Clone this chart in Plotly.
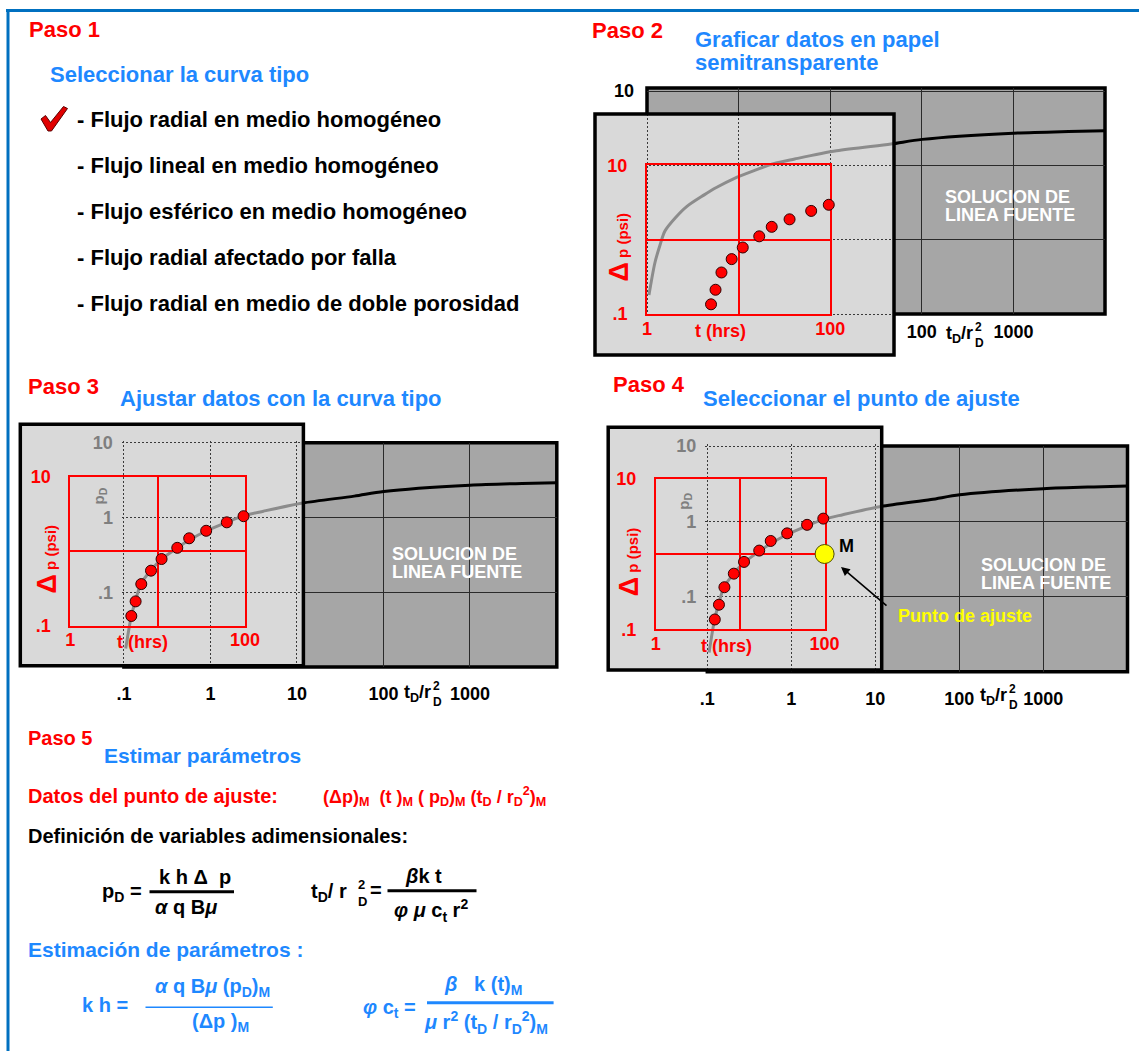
import math
import plotly.graph_objects as go

W, H = 1139, 1051
FONT = "Liberation Sans, Arial, Helvetica, sans-serif"
RED = "#ff0000"
BLUE = "#1e88ff"
GRAYTXT = "#7f7f7f"
SHEET = "#a6a6a6"
PAPER = "#d9d9d9"

# ---------------- data ----------------
# field data: pressure change vs time
t_hrs = [5.0, 5.6, 6.5, 8.4, 11.1, 16.8, 23.0, 36.0, 62.0, 96.5]
dp_psi = [0.135, 0.212, 0.362, 0.548, 0.785, 1.11, 1.49, 1.88, 2.44, 2.95]

# type curve (line-source solution): pD vs tD/rD^2
tD_rD2 = [0.105, 0.122, 0.138, 0.157, 0.203, 0.273, 0.417, 0.565, 0.891,
          1.55, 2.41, 4.1, 11.7, 46.0, 101.0, 1000.0, 4000.0, 10000.0]
pD = [0.018, 0.049, 0.083, 0.131, 0.196, 0.281, 0.398, 0.50, 0.665,
      0.869, 1.057, 1.22, 1.57, 1.94, 2.24, 2.71, 2.86, 2.93]

# match point (Paso 4)
match_t = [100]
match_dp = [1]

# tick labels
sheet_x_ticks = [0.1, 1, 10, 100, 1000, 10000]
sheet_x_labels = [".1", "1", "10", "100", "1000", ""]
sheet_y_ticks = [0.01, 0.1, 1, 10]
sheet_y_labels = ["", ".1", "1", "10"]
red_x_ticks = [1, 10, 100]
red_x_labels = ["1", "", "100"]
red_y_ticks = [0.1, 1, 10]
red_y_labels = [".1", "", "10"]

curve_types = [
    "- Flujo radial en medio homogéneo",
    "- Flujo lineal en medio homogéneo",
    "- Flujo esférico en medio homogéneo",
    "- Flujo radial afectado por falla",
    "- Flujo radial en medio de doble porosidad",
]

# ---------------- helpers ----------------
fig = go.Figure()
layout_axes = {}
shapes = []
annotations = []
n_sub = [0]


def X(p):
    return p / W


def Y(p):
    return 1 - p / H


def rng_x(m, a, b):
    v0, p0, ppd = m
    l0 = math.log10(v0)
    return [l0 + (a - p0) / ppd, l0 + (b - p0) / ppd]


def rng_y(m, top, bot):
    v0, p0, ppd = m
    l0 = math.log10(v0)
    return [l0 - (bot - p0) / ppd, l0 - (top - p0) / ppd]


def pix_x(m, v):
    v0, p0, ppd = m
    return p0 + (math.log10(v) - math.log10(v0)) * ppd


def pix_y(m, v):
    v0, p0, ppd = m
    return p0 - (math.log10(v) - math.log10(v0)) * ppd


BASE_AX = dict(showgrid=False, zeroline=False, showticklabels=False, ticks="",
               showline=False, fixedrange=True, automargin=False)


def b(s):
    return "<b>%s</b>" % s if s else ""


def ticks_kw(vals, labels, grid, font=None, standoff=0, show=True):
    """labelled ticks as major ticks, every decade gridline as a minor gridline"""
    lv = [v for v, s in zip(vals, labels) if s] if show else []
    lt = [b(s) for s in labels if s] if show else []
    kw = dict(tickmode="array", tickvals=lv, ticktext=lt, showticklabels=bool(lv),
              showgrid=True, gridcolor=grid["color"], gridwidth=grid["width"],
              griddash=grid.get("dash", "solid"),
              minor=dict(tickmode="array", tickvals=vals, ticks="", showgrid=True,
                         gridcolor=grid["color"], gridwidth=grid["width"],
                         griddash=grid.get("dash", "solid")))
    if font:
        kw["tickfont"] = font
    kw["ticklabelstandoff"] = standoff
    return kw


def subplot(rect, xr, yr, xtype="log", ytype="log", xkw=None, ykw=None):
    n_sub[0] += 1
    n = n_sub[0]
    s = "" if n == 1 else str(n)
    xa = dict(BASE_AX, domain=[X(rect[0]), X(rect[2])], range=xr, type=xtype, anchor="y" + s)
    ya = dict(BASE_AX, domain=[Y(rect[3]), Y(rect[1])], range=yr, type=ytype, anchor="x" + s)
    if xkw:
        xa.update(xkw)
    if ykw:
        ya.update(ykw)
    layout_axes["xaxis" + s] = xa
    layout_axes["yaxis" + s] = ya
    return "x" + s, "y" + s


def text(x, y, s, size, color, xanchor="left", yanchor="middle", angle=0):
    annotations.append(dict(x=X(x), y=Y(y), xref="paper", yref="paper", text=b(s),
                            showarrow=False, xanchor=xanchor, yanchor=yanchor,
                            textangle=angle, borderpad=0,
                            font=dict(family=FONT, size=size, color=color)))


def hline(x0, x1, y, color, width):
    shapes.append(dict(type="line", xref="paper", yref="paper", x0=X(x0), x1=X(x1),
                       y0=Y(y), y1=Y(y), line=dict(color=color, width=width), layer="above"))


def inside(px_, py_, rect):
    return rect[0] <= px_ <= rect[2] and rect[1] <= py_ <= rect[3]


SHEET_GRID = dict(color="#2a2a2a", width=1.2)
PAPER_GRID = dict(color="#3a3a3a", width=1, dash="2px,2px")
RED_GRID = dict(color=RED, width=2)


def panel(cfg):
    sheet, paper = cfg["sheet"], cfg["paper"]
    sx, sy, rx, ry = cfg["sx"], cfg["sy"], cfg["rx"], cfg["ry"]
    # type-curve sheet background
    shapes.append(dict(type="rect", xref="paper", yref="paper", x0=X(sheet[0]), x1=X(sheet[2]),
                       y0=Y(sheet[3]), y1=Y(sheet[1]), fillcolor=SHEET,
                       line=dict(color="black", width=3.5), layer="below"))
    # labels of the sheet that lie under the paper are not visible
    xlab = [s if not inside(pix_x(sx, v), sheet[3] + 18, paper) else ""
            for v, s in zip(sheet_x_ticks, sheet_x_labels)]
    ylab = [s if not inside(sheet[0] - 22, pix_y(sy, v), paper) else ""
            for v, s in zip(sheet_y_ticks, sheet_y_labels)]
    blackfont = dict(family=FONT, size=18, color="black")
    # A: type curve axes (black curve)
    xkw = ticks_kw(sheet_x_ticks, xlab, SHEET_GRID, blackfont, cfg["xstand"])
    ykw = ticks_kw(sheet_y_ticks, ylab, SHEET_GRID, blackfont, 12, show=cfg["sheet_ylab"])
    xa, ya = subplot(sheet, rng_x(sx, sheet[0], sheet[2]), rng_y(sy, sheet[1], sheet[3]), xkw=xkw, ykw=ykw)
    fig.add_trace(go.Scatter(x=tD_rD2, y=pD, xaxis=xa, yaxis=ya, mode="lines",
                             line=dict(color="black", width=3, shape="spline", smoothing=0.8),
                             hoverinfo="skip", showlegend=False))
    # P: semi-transparent paper
    xp, yp = subplot(paper, [0, 1], [0, 1], "linear", "linear")
    shapes.append(dict(type="rect", xref=xp, yref=yp, x0=0, x1=1, y0=0, y1=1,
                       fillcolor=PAPER, line=dict(width=0), layer="below"))
    # C: type curve seen through the paper
    crect = (max(sheet[0] - 2, paper[0]), max(sheet[1] - 2, paper[1]),
             min(sheet[2], paper[2]), min(sheet[3] + 2, paper[3]))
    grayfont = dict(family=FONT, size=18, color=GRAYTXT)
    xkw = ticks_kw(sheet_x_ticks, sheet_x_labels, PAPER_GRID, show=False)
    ykw = ticks_kw(sheet_y_ticks, sheet_y_labels, PAPER_GRID, grayfont, 8, show=cfg["gray_ylab"])
    xc, yc = subplot(crect, rng_x(sx, crect[0], crect[2]), rng_y(sy, crect[1], crect[3]), xkw=xkw, ykw=ykw)
    fig.add_trace(go.Scatter(x=tD_rD2, y=pD, xaxis=xc, yaxis=yc, mode="lines",
                             line=dict(color="#8c8c8c", width=3, shape="spline", smoothing=0.8),
                             hoverinfo="skip", showlegend=False))
    # B: red grid of the field data
    rrect = (pix_x(rx, red_x_ticks[0]), pix_y(ry, red_y_ticks[-1]),
             pix_x(rx, red_x_ticks[-1]), pix_y(ry, red_y_ticks[0]))
    redfont = dict(family=FONT, size=18, color=RED)
    line_kw = dict(showline=True, mirror=True, linecolor=RED, linewidth=2, layer="below traces")
    xkw = dict(ticks_kw(red_x_ticks, red_x_labels, RED_GRID, redfont, -3), **line_kw)
    ykw = dict(ticks_kw(red_y_ticks, red_y_labels, RED_GRID, redfont, 14), **line_kw)
    xb, yb = subplot(rrect, [math.log10(red_x_ticks[0]), math.log10(red_x_ticks[-1])],
                     [math.log10(red_y_ticks[0]), math.log10(red_y_ticks[-1])], xkw=xkw, ykw=ykw)
    fig.add_trace(go.Scatter(x=t_hrs, y=dp_psi, xaxis=xb, yaxis=yb, mode="markers",
                             marker=dict(color=RED, size=11, line=dict(color="#300000", width=1)),
                             cliponaxis=False, hoverinfo="skip", showlegend=False))
    # paper border
    shapes.append(dict(type="rect", xref="paper", yref="paper", x0=X(paper[0]), x1=X(paper[2]),
                       y0=Y(paper[3]), y1=Y(paper[1]), fillcolor="rgba(0,0,0,0)",
                       line=dict(color="black", width=3.5), layer="above"))
    # texts
    tx, ty = cfg["thrs"]
    text(tx, ty, "t (hrs)", 18, RED, xanchor="center")
    dx, dy = cfg["dp"]
    annotations.append(dict(x=X(dx), y=Y(dy), xref="paper", yref="paper",
                            text="<b><span style='font-size:27px'>Δ</span> p (psi)</b>",
                            showarrow=False, textangle=-90, xanchor="center", yanchor="middle",
                            font=dict(family=FONT, size=15, color=RED)))
    if cfg.get("pd"):
        px_, py_ = cfg["pd"]
        annotations.append(dict(x=X(px_), y=Y(py_), xref="paper", yref="paper",
                                text="<b>p<sub>D</sub></b>", showarrow=False, textangle=-90,
                                xanchor="center", yanchor="middle",
                                font=dict(family=FONT, size=15, color=GRAYTXT)))
    sx0, sy0 = cfg["sol"]
    text(sx0, sy0, "SOLUCION DE", 18, "white")
    text(sx0, sy0 + 18, "LINEA FUENTE", 18, "white")
    lx, ly = cfg["tdr"]
    text(lx, ly, "t<sub>D</sub>/r", 18, "black")
    text(lx + 29, ly - 7, "2", 12, "black")
    text(lx + 29, ly + 9, "D", 12, "black")
    return xb, yb


# ---------------- frame ----------------
hline(6, W, 10.5, "#0070c0", 3)
shapes.append(dict(type="line", xref="paper", yref="paper", x0=X(8), x1=X(8), y0=Y(9), y1=0,
                   line=dict(color="#0070c0", width=3), layer="above"))

# ---------------- Paso 1 ----------------
text(27.9, 30, "Paso 1", 22, RED)
text(48.9, 74, "Seleccionar la curva tipo", 22, BLUE)
for i, item in enumerate(curve_types):
    text(76.1, 119 + i * 46.25, item, 22, "black")
chk = [(41, 119), (45.5, 115.5), (50.5, 122.5), (63.5, 106.5), (67.5, 108.5), (51.5, 131), (48, 131)]
path = "M " + " L ".join("%.5f,%.5f" % (X(a), Y(c)) for a, c in chk) + " Z"
shapes.append(dict(type="path", xref="paper", yref="paper", path=path, fillcolor="#e00000",
                   line=dict(color="#5a0000", width=1), layer="above"))

# ---------------- Paso 2 ----------------
text(590.7, 31, "Paso 2", 22, RED)
text(694, 39.5, "Graficar datos en papel", 22, BLUE)
text(694, 62.5, "semitransparente", 22, BLUE)
panel(dict(sheet=(647, 88, 1105, 314), sx=(0.1, 647, 91.6), sy=(0.01, 314, 74.3),
           paper=(595, 114, 894, 355), rx=(1, 647, 91.6), ry=(0.1, 314, 74.3),
           xstand=5, sheet_ylab=True, gray_ylab=False,
           thrs=(720.8, 331), dp=(618.5, 247), pd=None, sol=(943.6, 196.7), tdr=(945, 334)))

# ---------------- Paso 3 ----------------
text(26.6, 386, "Paso 3", 22, RED)
text(119.1, 399, "Ajustar datos con la curva tipo", 22, BLUE)
panel(dict(sheet=(123.9, 442.7, 556.8, 667), sx=(0.1, 123.9, 86.5), sy=(10, 442.7, 75),
           paper=(20.3, 424.3, 303.4, 665.7), rx=(1, 70.3, 87.3), ry=(0.1, 625.7, 74.5),
           xstand=14, sheet_ylab=False, gray_ylab=True,
           thrs=(142.5, 641.5), dp=(46, 559.5), pd=(99, 496.5), sol=(391.4, 554), tdr=(403, 693)))

# ---------------- Paso 4 ----------------
text(612, 385, "Paso 4", 22, RED)
text(702, 399, "Seleccionar el punto de ajuste", 22, BLUE)
xb4, yb4 = panel(dict(sheet=(707.3, 446, 1127.5, 671.7), sx=(0.1, 707.3, 84), sy=(10, 446, 75.2),
                      paper=(608.2, 427.3, 881.7, 670), rx=(1, 655.8, 84.4), ry=(0.1, 629.3, 75.3),
                      xstand=14, sheet_ylab=False, gray_ylab=True,
                      thrs=(726.6, 646), dp=(629.2, 562), pd=(683.7, 501), sol=(980.4, 565),
                      tdr=(979, 696)))
fig.add_trace(go.Scatter(x=match_t, y=match_dp, xaxis=xb4, yaxis=yb4, mode="markers",
                         marker=dict(color="#ffff00", size=19, line=dict(color="#4d4d00", width=1)),
                         cliponaxis=False, hoverinfo="skip", showlegend=False))
text(846.7, 546, "M", 18, "black", xanchor="center")
text(896.7, 615.7, "Punto de ajuste", 18, "#ffff00")
annotations.append(dict(x=X(841), y=Y(567), xref="paper", yref="paper", text="",
                        showarrow=True, ax=47, ay=40, arrowhead=2, arrowsize=1.1,
                        arrowwidth=1.6, arrowcolor="black"))

# ---------------- Paso 5 ----------------
text(26.9, 738, "Paso 5", 20, RED)
text(102.8, 755, "Estimar parámetros", 21, BLUE)
text(26.9, 796, "Datos del punto de ajuste:", 20, RED)
text(322.3, 796, "(Δp)<sub>M</sub>  (t )<sub>M</sub> ( p<sub>D</sub>)<sub>M</sub> (t<sub>D</sub> / r<sub>D</sub><sup>2</sup>)<sub>M</sub>", 18, RED)
text(26.9, 836, "Definición de variables adimensionales:", 20, "black")

text(100.5, 892, "p<sub>D</sub> =", 20, "black")
text(194.5, 877, "k h Δ  p", 20, "black", xanchor="center")
hline(149.5, 234, 891.7, "black", 3)
text(186, 907, "<i>α</i> q B<i>μ</i>", 20, "black", xanchor="center")

text(310.4, 892, "t<sub>D</sub>/ r", 20, "black")
text(357, 884, "2", 13, "black")
text(357, 901, "D", 13, "black")
text(369, 890, "=", 20, "black")
text(423, 876, "<i>β</i>k t", 20, "black", xanchor="center")
hline(387.5, 476.5, 890.7, "black", 3)
text(431, 910, "<i>φ μ</i> c<sub>t</sub> r<sup>2</sup>", 20, "black", xanchor="center")

text(26.9, 949, "Estimación de parámetros :", 21, BLUE)
text(81, 1005, "k h =", 20, BLUE)
text(212.5, 987, "<i>α</i> q B<i>μ</i> (p<sub>D</sub>)<sub>M</sub>", 20, BLUE, xanchor="center")
hline(145.5, 272.8, 1007.3, BLUE, 1.5)
text(220.4, 1022, "(Δp )<sub>M</sub>", 20, BLUE, xanchor="center")

text(361.8, 1008, "<i>φ</i> c<sub>t</sub> =", 20, BLUE)
text(483.4, 985, "<i>β</i>   k (t)<sub>M</sub>", 20, BLUE, xanchor="center")
hline(427, 553.6, 1002.7, BLUE, 3)
text(486.4, 1022, "<i>μ</i> r<sup>2</sup> (t<sub>D</sub> / r<sub>D</sub><sup>2</sup>)<sub>M</sub>", 20, BLUE, xanchor="center")

fig.update_layout(
    template="none",
    width=W, height=H,
    margin=dict(l=0, r=0, t=0, b=0, pad=0),
    paper_bgcolor="white",
    plot_bgcolor="rgba(0,0,0,0)",
    showlegend=False,
    shapes=shapes,
    annotations=annotations,
    **layout_axes,
)
fig.write_html("out.html", config={"displayModeBar": False},
               post_script="document.body.style.margin='0px';")
